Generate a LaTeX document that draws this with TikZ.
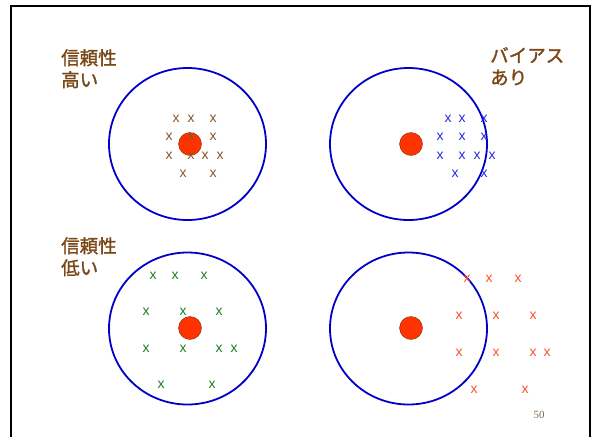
\documentclass[tikz,border=0pt]{standalone}
\usepackage{fontspec}
\setmainfont{Liberation Sans}
\newfontfamily\jpfont[FakeBold=1.5]{Noto Sans CJK JP}
\newfontfamily\pagefont{Liberation Serif}
\usetikzlibrary{shapes.geometric}

\definecolor{capbrown}{RGB}{122,72,22}
\definecolor{ringblue}{RGB}{0,0,200}
\definecolor{dotred}{RGB}{255,51,0}
\definecolor{dotrim}{RGB}{120,60,20}
\definecolor{hitbrown}{RGB}{135,85,35}
\definecolor{hitblue}{RGB}{40,40,225}
\definecolor{hitgreen}{RGB}{30,125,30}
\definecolor{hitred}{RGB}{255,80,40}
\definecolor{pagegray}{RGB}{125,105,85}

\begin{document}
\begin{tikzpicture}[x=1pt, y=-1pt]

% --- Styles ---
\tikzset{
    target/.style={ellipse, draw=ringblue, line width=1.8pt, minimum width=157pt, minimum height=152pt, inner sep=0pt},
    bullseye/.style={circle, fill=dotred, draw=dotrim, line width=0.4pt, minimum size=23pt, inner sep=0pt},
    hit/.style={font=\fontsize{14}{14}\selectfont, inner sep=0pt},
    caption/.style={font=\jpfont\fontsize{18.5}{22}\selectfont, text=capbrown, align=left, anchor=north west, inner sep=0pt}
}

% Page size and slide frame
\useasboundingbox (0,0) rectangle (593,437);
\draw[line width=2pt] (11,437) -- (11,6) -- (590,6) -- (590,437);

% Targets
\node[target] (ringTL) at (187.5,144) {};
\node[target] (ringTR) at (408.5,144) {};
\node[target] (ringBL) at (187.5,328.5) {};
\node[target] (ringBR) at (408.5,328.5) {};

% Bullseyes
\node[bullseye] (dotTL) at (190,144) {};
\node[bullseye] (dotTR) at (411,144) {};
\node[bullseye] (dotBL) at (190,328) {};
\node[bullseye] (dotBR) at (411,328) {};

% Captions
\node[caption] (capTL) at (61,49) {信頼性\\高い};
\node[caption] (capTR) at (490,47) {バイアス\\あり};
\node[caption] (capBL) at (61,237) {信頼性\\低い};

% Hits: high reliability, no bias
\foreach \px/\py [count=\k] in {176/119, 191/119, 213/119, 169/137, 191/137, 213/137,
        169/156, 191/156, 205/156, 220/156, 183/174, 213/174}
    \node[hit, text=hitbrown] (hTL\k) at (\px,\py) {x};

% Hits: high reliability, bias
\foreach \px/\py [count=\k] in {448/119, 462/119, 484/119, 440/137, 462/137, 484/137,
        440/156, 462/156, 477/156, 492/156, 455/174, 484/174}
    \node[hit, text=hitblue] (hTR\k) at (\px,\py) {x};

% Hits: low reliability, no bias
\foreach \px/\py [count=\k] in {153/276, 175/276, 204/276, 146/312, 183/312, 219/312,
        146/349, 183/349, 219/349, 234/349, 161/385, 212/385}
    \node[hit, text=hitgreen] (hBL\k) at (\px,\py) {x};

% Hits: low reliability, bias
\foreach \px/\py [count=\k] in {467/279, 489/279, 518/279, 459/316, 496/316, 533/316,
        459/353, 496/353, 533/353, 547/353, 474/390, 525/390}
    \node[hit, text=hitred] (hBR\k) at (\px,\py) {x};

% Page number
\node[font=\pagefont\fontsize{11}{11}\selectfont, text=pagegray, inner sep=0pt] (pageno) at (539,415) {50};

\end{tikzpicture}
\end{document}
